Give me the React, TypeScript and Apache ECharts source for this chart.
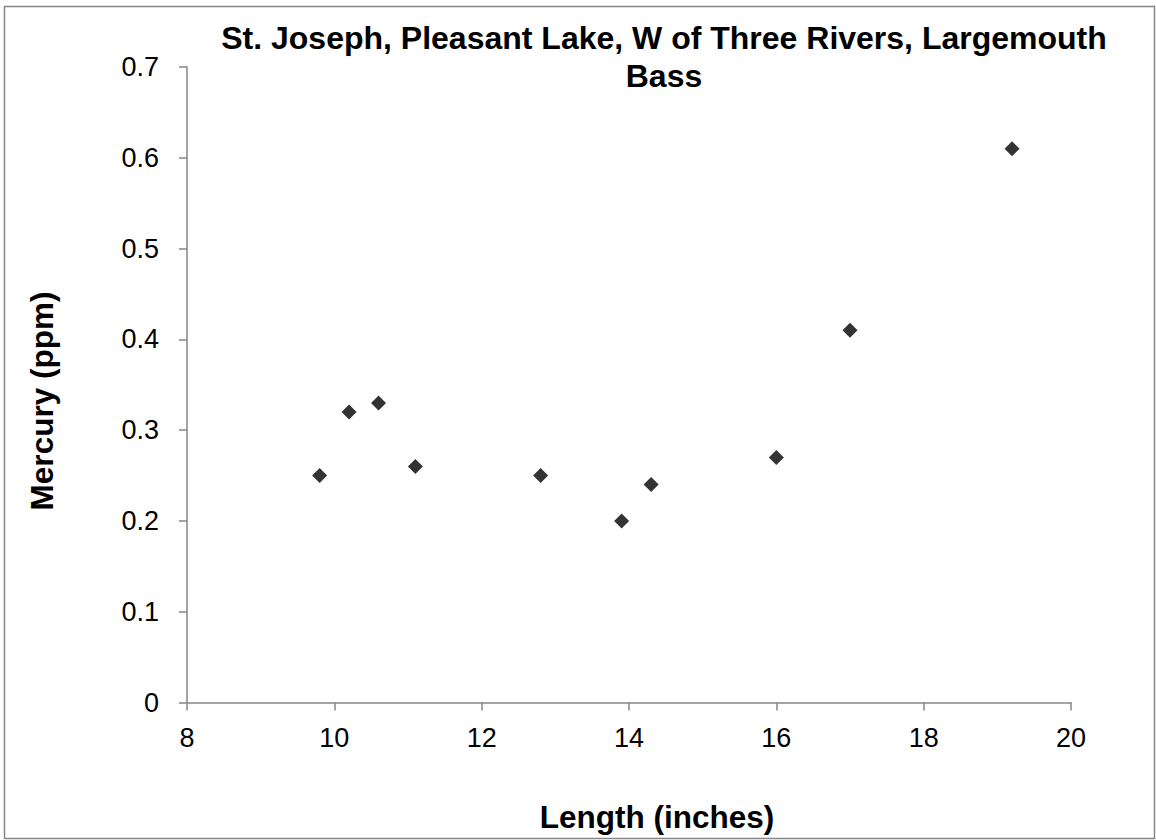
import React, { useEffect, useRef } from "react";
import * as echarts from "echarts";

const chartTitle = "St. Joseph, Pleasant Lake, W of Three Rivers, Largemouth\nBass";
const xAxisTitle = "Length (inches)";
const yAxisTitle = "Mercury (ppm)";

const lengths = [9.8, 10.2, 10.6, 11.1, 12.8, 13.9, 14.3, 16.0, 17.0, 19.2];
const mercury = [0.25, 0.32, 0.33, 0.26, 0.25, 0.2, 0.24, 0.27, 0.41, 0.61];

const xMin = 8;
const xMax = 20;
const xStep = 2;
const yMin = 0;
const yMax = 0.7;
const yStep = 0.1;

const FONT = "'Liberation Sans', Arial, Helvetica, sans-serif";
const AXIS_COLOR = "#868686";

export default function App() {
  const ref = useRef<HTMLDivElement>(null);

  useEffect(() => {
    if (!ref.current) return;
    const chart = echarts.init(ref.current, null, { renderer: "svg" });
    const points = lengths.map((x, i) => [x, mercury[i]]);
    chart.setOption({
      animation: false,
      backgroundColor: "#ffffff",
      textStyle: { fontFamily: FONT },
      title: {
        text: chartTitle,
        left: 659,
        top: 14,
        textAlign: "center",
        textStyle: {
          fontFamily: FONT,
          fontSize: 32,
          fontWeight: "bold",
          color: "#000000",
          lineHeight: 38,
        },
      },
      graphic: [
        {
          type: "rect",
          shape: { x: 4.5, y: 6.5, width: 1150, height: 832 },
          style: { fill: "none", stroke: AXIS_COLOR, lineWidth: 1.5 },
          silent: true,
        },
        {
          type: "text",
          x: 657,
          y: 817,
          silent: true,
          style: {
            text: xAxisTitle,
            fontFamily: FONT,
            fontSize: 31.5,
            fontWeight: "bold",
            fill: "#000",
            align: "center",
            verticalAlign: "middle",
          },
        },
        {
          type: "text",
          x: 42,
          y: 401,
          rotation: Math.PI / 2,
          silent: true,
          style: {
            text: yAxisTitle,
            fontFamily: FONT,
            fontSize: 31.5,
            fontWeight: "bold",
            fill: "#000",
            align: "center",
            verticalAlign: "middle",
          },
        },
      ],
      grid: { left: 187, right: 85, top: 67, bottom: 137.5, containLabel: false },
      xAxis: {
        type: "value",
        min: xMin,
        max: xMax,
        interval: xStep,
        axisLine: { show: true, onZero: false, lineStyle: { color: AXIS_COLOR, width: 1.5 } },
        axisTick: { show: true, length: 8, lineStyle: { color: AXIS_COLOR, width: 1.5 } },
        axisLabel: { fontFamily: FONT, fontSize: 27, color: "#000", margin: 22 },
        splitLine: { show: false },
      },
      yAxis: {
        type: "value",
        min: yMin,
        max: yMax,
        interval: yStep,
        axisLine: { show: true, onZero: false, lineStyle: { color: AXIS_COLOR, width: 1.5 } },
        axisTick: { show: true, length: 8, lineStyle: { color: AXIS_COLOR, width: 1.5 } },
        axisLabel: {
          fontFamily: FONT,
          fontSize: 27,
          color: "#000",
          margin: 28,
          formatter: (v: number) => (Math.round(v * 10) / 10).toString(),
        },
        splitLine: { show: false },
      },
      series: [
        {
          type: "scatter",
          data: points,
          symbol: "diamond",
          symbolSize: [15, 15],
          itemStyle: { color: "#000000" },
        },
      ],
    });
    return () => chart.dispose();
  }, []);

  return (
    <div
      ref={ref}
      style={{ position: "fixed", left: 0, top: 0, width: 1156, height: 840, background: "#fff" }}
    />
  );
}
